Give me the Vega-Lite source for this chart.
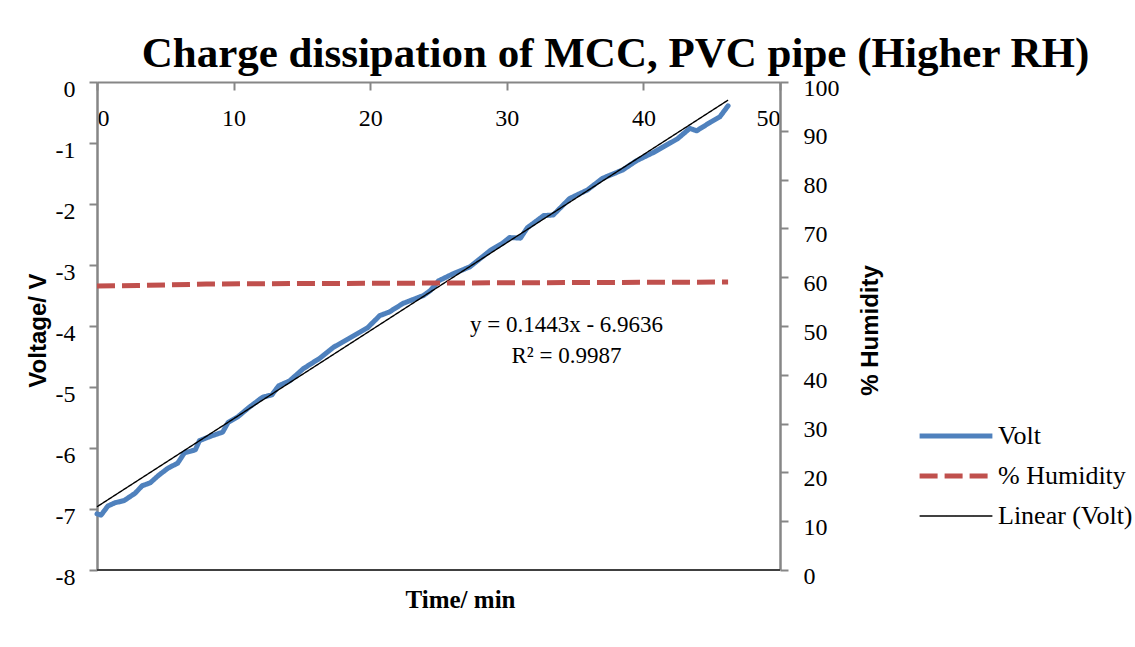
{
  "$schema": "https://vega.github.io/schema/vega-lite/v6.json",
  "width": 683,
  "height": 488,
  "autosize": {"type": "none"},
  "padding": {"left": 97, "top": 82, "right": 355, "bottom": 77},
  "background": "white",
  "title": {
    "text": "Charge dissipation of MCC, PVC pipe (Higher RH)",
    "font": "Liberation Serif",
    "fontSize": 43,
    "fontWeight": "bold",
    "color": "black",
    "anchor": "middle",
    "dx": 177,
    "offset": 0
  },
  "config": {
    "view": {"stroke": null},
    "font": "Liberation Serif",
    "axis": {"grid": false}
  },
  "datasets": {
    "volt": [
      {"t": 0.0, "value": -7.08, "series": "Volt"},
      {"t": 0.3, "value": -7.1, "series": "Volt"},
      {"t": 0.8, "value": -6.95, "series": "Volt"},
      {"t": 1.3, "value": -6.9, "series": "Volt"},
      {"t": 2.0, "value": -6.86, "series": "Volt"},
      {"t": 2.8, "value": -6.74, "series": "Volt"},
      {"t": 3.3, "value": -6.62, "series": "Volt"},
      {"t": 3.9, "value": -6.57, "series": "Volt"},
      {"t": 4.5, "value": -6.45, "series": "Volt"},
      {"t": 5.2, "value": -6.33, "series": "Volt"},
      {"t": 5.9, "value": -6.25, "series": "Volt"},
      {"t": 6.4, "value": -6.08, "series": "Volt"},
      {"t": 7.2, "value": -6.03, "series": "Volt"},
      {"t": 7.5, "value": -5.88, "series": "Volt"},
      {"t": 8.4, "value": -5.8, "series": "Volt"},
      {"t": 9.2, "value": -5.74, "series": "Volt"},
      {"t": 9.6, "value": -5.58, "series": "Volt"},
      {"t": 10.3, "value": -5.49, "series": "Volt"},
      {"t": 11.1, "value": -5.34, "series": "Volt"},
      {"t": 12.1, "value": -5.17, "series": "Volt"},
      {"t": 12.8, "value": -5.13, "series": "Volt"},
      {"t": 13.3, "value": -4.98, "series": "Volt"},
      {"t": 14.1, "value": -4.9, "series": "Volt"},
      {"t": 15.1, "value": -4.7, "series": "Volt"},
      {"t": 16.3, "value": -4.53, "series": "Volt"},
      {"t": 17.3, "value": -4.35, "series": "Volt"},
      {"t": 18.4, "value": -4.21, "series": "Volt"},
      {"t": 19.8, "value": -4.03, "series": "Volt"},
      {"t": 20.7, "value": -3.83, "series": "Volt"},
      {"t": 21.4, "value": -3.77, "series": "Volt"},
      {"t": 22.4, "value": -3.63, "series": "Volt"},
      {"t": 23.9, "value": -3.5, "series": "Volt"},
      {"t": 24.4, "value": -3.42, "series": "Volt"},
      {"t": 25.0, "value": -3.26, "series": "Volt"},
      {"t": 26.1, "value": -3.14, "series": "Volt"},
      {"t": 27.3, "value": -3.03, "series": "Volt"},
      {"t": 28.3, "value": -2.85, "series": "Volt"},
      {"t": 28.8, "value": -2.76, "series": "Volt"},
      {"t": 29.7, "value": -2.64, "series": "Volt"},
      {"t": 30.2, "value": -2.55, "series": "Volt"},
      {"t": 31.0, "value": -2.56, "series": "Volt"},
      {"t": 31.5, "value": -2.39, "series": "Volt"},
      {"t": 32.7, "value": -2.19, "series": "Volt"},
      {"t": 33.4, "value": -2.18, "series": "Volt"},
      {"t": 34.6, "value": -1.91, "series": "Volt"},
      {"t": 35.9, "value": -1.77, "series": "Volt"},
      {"t": 37.0, "value": -1.58, "series": "Volt"},
      {"t": 38.5, "value": -1.44, "series": "Volt"},
      {"t": 39.5, "value": -1.29, "series": "Volt"},
      {"t": 40.7, "value": -1.16, "series": "Volt"},
      {"t": 41.4, "value": -1.07, "series": "Volt"},
      {"t": 42.5, "value": -0.93, "series": "Volt"},
      {"t": 43.4, "value": -0.76, "series": "Volt"},
      {"t": 43.9, "value": -0.8, "series": "Volt"},
      {"t": 44.9, "value": -0.66, "series": "Volt"},
      {"t": 45.6, "value": -0.57, "series": "Volt"},
      {"t": 46.2, "value": -0.39, "series": "Volt"}
    ],
    "trend": [
      {"t": 0.0, "value": -6.9636, "series": "Linear (Volt)"},
      {"t": 46.2, "value": -0.297, "series": "Linear (Volt)"}
    ],
    "hum": [
      {"t": 0.0, "value": 58.2, "series": "% Humidity"},
      {"t": 3.0, "value": 58.3, "series": "% Humidity"},
      {"t": 8.0, "value": 58.6, "series": "% Humidity"},
      {"t": 15.0, "value": 58.7, "series": "% Humidity"},
      {"t": 25.0, "value": 58.8, "series": "% Humidity"},
      {"t": 35.0, "value": 58.9, "series": "% Humidity"},
      {"t": 46.2, "value": 59.0, "series": "% Humidity"}
    ],
    "notes": [
      {"t": 34.37, "value": -4.1, "label": "y = 0.1443x - 6.9636"},
      {"t": 34.37, "value": -4.61, "label": "R² = 0.9987"}
    ]
  },
  "layer": [
    {
      "layer": [
        {
          "data": {"name": "volt"},
          "mark": {"type": "line", "strokeCap": "round", "strokeJoin": "round"},
          "encoding": {
            "x": {
              "field": "t", "type": "quantitative",
              "scale": {"domain": [0, 50], "nice": false},
              "axis": {
                "orient": "bottom", "offset": -488,
                "values": [0, 10, 20, 30, 40, 50],
                "title": "Time/ min",
                "titleFont": "Liberation Serif", "titleFontSize": 25, "titleFontWeight": "bold", "titleColor": "black",
                "titleX": 363, "titleY": 525, "titleBaseline": "alphabetic", "titleAlign": "center",
                "labelFont": "Liberation Serif", "labelFontSize": 24, "labelColor": "black",
                "labelPadding": 16, "labelFlush": true, "labelOverlap": false,
                "tickSize": 8, "tickColor": "#868686", "tickWidth": 2,
                "domainColor": "#868686", "domainWidth": 2
              }
            },
            "y": {
              "field": "value", "type": "quantitative",
              "scale": {"domain": [-8, 0], "nice": false},
              "axis": {
                "orient": "left",
                "values": [-8, -7, -6, -5, -4, -3, -2, -1, 0],
                "labelExpr": "'' + datum.value",
                "title": "Voltage/ V",
                "titleFont": "Liberation Sans", "titleFontSize": 24, "titleFontWeight": "bold", "titleColor": "black",
                "titleAngle": -90, "titleX": -52, "titleY": 248, "titleBaseline": "alphabetic", "titleAlign": "center",
                "labelFont": "Liberation Serif", "labelFontSize": 24, "labelColor": "black",
                "labelPadding": 14, "labelOffset": 7, "labelOverlap": false,
                "tickSize": 8, "tickColor": "#868686", "tickWidth": 2,
                "domainColor": "#868686", "domainWidth": 2.5
              }
            },
            "color": {
              "field": "series", "type": "nominal",
              "scale": {"domain": ["Volt", "% Humidity", "Linear (Volt)"], "range": ["#4F81BD", "#C0504D", "#000000"]},
              "legend": {
                "title": null, "orient": "none", "legendX": 820, "legendY": 340,
                "symbolType": "stroke", "symbolSize": 5300, "clipHeight": 28,
                "labelFont": "Liberation Serif", "labelFontSize": 26, "labelColor": "black",
                "labelOffset": 3, "rowPadding": 12
              }
            },
            "strokeDash": {
              "field": "series", "type": "nominal",
              "scale": {"domain": ["Volt", "% Humidity", "Linear (Volt)"], "range": [[1, 0], [18, 7], [1, 0]]}
            },
            "strokeWidth": {
              "field": "series", "type": "nominal",
              "scale": {"type": "ordinal", "domain": ["Volt", "% Humidity", "Linear (Volt)"], "range": [5, 5, 1.4]}
            }
          }
        },
        {
          "data": {"name": "trend"},
          "mark": {"type": "line"},
          "encoding": {
            "x": {"field": "t", "type": "quantitative"},
            "y": {"field": "value", "type": "quantitative"},
            "color": {"field": "series", "type": "nominal"},
            "strokeDash": {"field": "series", "type": "nominal"},
            "strokeWidth": {
              "field": "series", "type": "nominal",
              "scale": {"type": "ordinal", "domain": ["Volt", "% Humidity", "Linear (Volt)"], "range": [5, 5, 1.4]}
            }
          }
        },
        {
          "data": {"values": [{}]},
          "mark": {"type": "rule", "color": "#404040", "strokeWidth": 2},
          "encoding": {
            "x": {"datum": 0},
            "x2": {"datum": 50},
            "y": {"datum": -8}
          }
        },
        {
          "data": {"name": "notes"},
          "mark": {"type": "text", "font": "Liberation Serif", "fontSize": 23, "color": "black", "align": "center", "baseline": "alphabetic"},
          "encoding": {
            "x": {"field": "t", "type": "quantitative"},
            "y": {"field": "value", "type": "quantitative"},
            "text": {"field": "label"}
          }
        }
      ]
    },
    {
      "data": {"name": "hum"},
      "mark": {"type": "line"},
      "encoding": {
        "x": {"field": "t", "type": "quantitative"},
        "y": {
          "field": "value", "type": "quantitative",
          "scale": {"domain": [0, 100], "nice": false},
          "axis": {
            "orient": "right",
            "values": [0, 10, 20, 30, 40, 50, 60, 70, 80, 90, 100],
            "title": "% Humidity",
            "titleFont": "Liberation Sans", "titleFontSize": 24, "titleFontWeight": "bold", "titleColor": "black",
            "titleAngle": -90, "titleX": 97, "titleY": 248, "titleBaseline": "alphabetic", "titleAlign": "center",
            "labelFont": "Liberation Serif", "labelFontSize": 24, "labelColor": "black",
            "labelPadding": 15, "labelOffset": 6, "labelOverlap": false,
            "tickSize": 8, "tickColor": "#868686", "tickWidth": 2,
            "domainColor": "#868686", "domainWidth": 2.5
          }
        },
        "color": {"field": "series", "type": "nominal"},
        "strokeDash": {"field": "series", "type": "nominal"},
        "strokeWidth": {
          "field": "series", "type": "nominal",
          "scale": {"type": "ordinal", "domain": ["Volt", "% Humidity", "Linear (Volt)"], "range": [5, 5, 1.4]}
        }
      }
    }
  ],
  "resolve": {"scale": {"y": "independent"}}
}
